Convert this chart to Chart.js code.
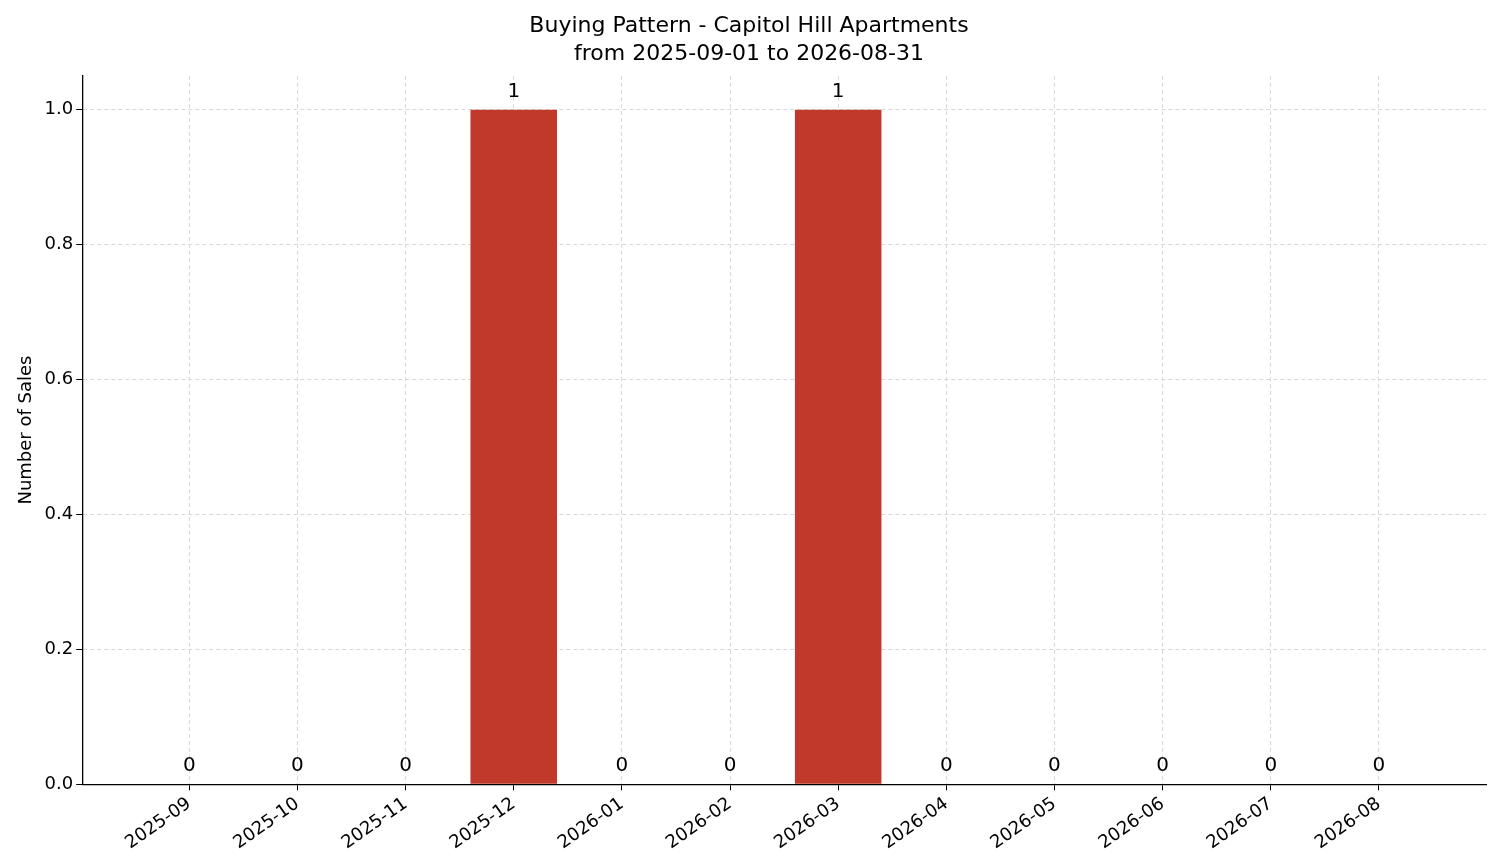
<!DOCTYPE html>
<html>
<head>
<meta charset="utf-8">
<script src="https://cdn.jsdelivr.net/npm/chart.js@4"></script>
<style>
  html, body { margin: 0; background: #fff; }
  #wrap { width: 1501px; height: 863px; }
</style>
</head>
<body>
<div id="wrap"><canvas id="salesChart"></canvas></div>
<script>
const months = ['2025-09', '2025-10', '2025-11', '2025-12', '2026-01', '2026-02',
                '2026-03', '2026-04', '2026-05', '2026-06', '2026-07', '2026-08'];
const sales = [0, 0, 0, 1, 0, 0, 1, 0, 0, 0, 0, 0];
const yTicks = [0, 0.2, 0.4, 0.6, 0.8, 1.0];

const valueLabels = {
  id: 'valueLabels',
  afterDatasetsDraw(chart) {
    const c = chart.ctx;
    const meta = chart.getDatasetMeta(0);
    c.save();
    c.font = '20px "DejaVu Sans"';
    c.fillStyle = '#000';
    c.textAlign = 'center';
    c.textBaseline = 'bottom';
    meta.data.forEach((bar, i) => {
      c.fillText(String(sales[i]), bar.x, bar.y - 8);
    });
    c.restore();
  }
};

const ctx = document.getElementById('salesChart').getContext('2d');
const chart = new Chart(ctx, {
  type: 'bar',
  data: {
    datasets: [{
      data: sales.map((v, i) => ({ x: i, y: v })),
      backgroundColor: '#c0392b',
      barPercentage: 0.8,
      categoryPercentage: 1.0
    }]
  },
  options: {
    responsive: true,
    maintainAspectRatio: false,
    animation: false,
    layout: { padding: { left: 12, right: 15, top: 3, bottom: 6 } },
    plugins: {
      legend: { display: false },
      tooltip: { enabled: false },
      title: {
        display: true,
        text: ['Buying Pattern - Capitol Hill Apartments', 'from 2025-09-01 to 2026-08-31'],
        color: '#000',
        font: { family: 'DejaVu Sans', size: 22, weight: 'normal', lineHeight: 1.25 },
        padding: { top: 10, bottom: 8 }
      }
    },
    scales: {
      x: {
        type: 'linear',
        offset: false,
        min: -0.99,
        max: 11.99,
        afterBuildTicks: (axis) => { axis.ticks = months.map((m, i) => ({ value: i })); },
        ticks: {
          callback: (v) => months[v],
          color: '#000',
          font: { family: 'DejaVu Sans', size: 18 },
          maxRotation: 35,
          minRotation: 35,
          autoSkip: false
        },
        grid: { offset: false, color: '#d8d8d8', tickColor: '#000', tickLength: 6 },
        border: { color: '#000', width: 1.3, dash: [4, 3] }
      },
      y: {
        min: 0,
        max: 1.05,
        afterBuildTicks: (axis) => { axis.ticks = yTicks.map(v => ({ value: v })); },
        ticks: {
          callback: (v) => v.toFixed(1),
          color: '#000',
          font: { family: 'DejaVu Sans', size: 18 }
        },
        title: {
          display: true,
          text: 'Number of Sales',
          color: '#000',
          font: { family: 'DejaVu Sans', size: 18 }
        },
        grid: { color: '#d8d8d8', tickColor: '#000', tickLength: 6 },
        border: { color: '#000', width: 1.3, dash: [4, 3] }
      }
    }
  },
  plugins: [valueLabels]
});
</script>
</body>
</html>
